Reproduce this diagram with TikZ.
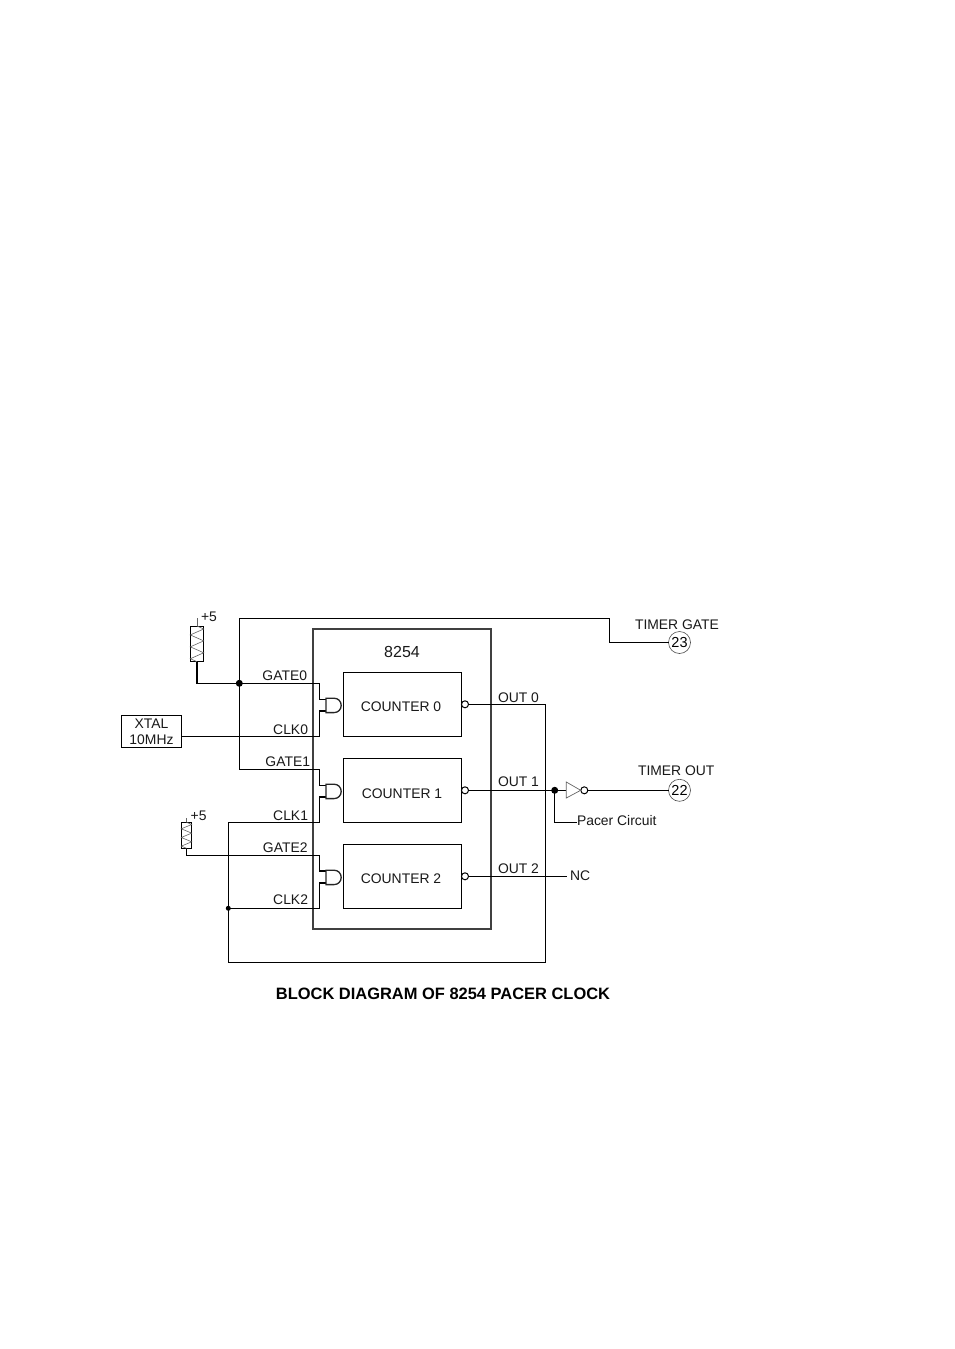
\documentclass[tikz,border=0pt]{standalone}
\usepackage{fontspec}
\setmainfont{Liberation Sans}
\usetikzlibrary{calc}
\newcommand{\GateShape}[1]{%
  \draw[gateline] (326,#1) -- (334,#1) .. controls (338.2,#1) and (341.2,#1+3.2) .. (341.2,#1+7.2) .. controls (341.2,#1+11.2) and (338.2,#1+14.4) .. (334,#1+14.4) -- (326,#1+14.4) -- cycle;}
\newcommand{\Zig}[5]{% x-left width y-top count period
  \draw[zigline] (#1+#2/2,#3) \foreach \n in {1,...,#4}{ -- ++(#2/2,#5/4) -- ++(-#2,#5/2) -- ++(#2/2,#5/4) };}
\tikzset{
  x=1pt,y=-1pt,
  every node/.style={inner sep=0pt,outer sep=0pt},
  wire/.style={line width=1.1pt,black},
  zigline/.style={line width=.6pt,black!60},
  gateline/.style={line width=1.3pt,black!85,fill=white},
  lbl/.style={font=\fontsize{13.9}{16}\selectfont,text=black!90},
  lblr/.style={lbl,anchor=base east},
  lbll/.style={lbl,anchor=base west},
  lblc/.style={lbl,anchor=base},
  boxn/.style={draw,line width=1.1pt,minimum width=118.4pt},
  chipn/.style={draw=black!75,line width=2pt,minimum width=178.4pt,minimum height=300pt},
  dotn/.style={circle,fill=black,minimum size=#1},
  bubble/.style={circle,draw,line width=1pt,fill=white,minimum size=7pt},
  pinn/.style={circle,draw=black!70,line width=.6pt,fill=white,minimum size=22pt,font=\fontsize{14.5}{16}\selectfont},
  resn/.style={draw,line width=1pt},
}
\begin{document}
\begin{tikzpicture}
\useasboundingbox[fill=white] (0,0) rectangle (954,1349);
% chip
\node[chipn] (chip) at (402,779.3) {};
\node[boxn,minimum height=64.3pt] (c0) at (402.5,704.2) {};
\node[boxn,minimum height=64pt] (c1) at (402.5,790.3) {};
\node[boxn,minimum height=64pt] (c2) at (402.5,876.3) {};
\node[lblc,font=\fontsize{16}{18}\selectfont] (t8254) at (402,657.5) {8254};
\node[lblc] (tc0) at (401,711) {COUNTER 0};
\node[lblc] (tc1) at (402,798) {COUNTER 1};
\node[lblc] (tc2) at (401,883) {COUNTER 2};
% parts
\node[draw,line width=1pt,minimum width=60.4pt,minimum height=32pt] (xtal) at (151.5,731.3) {};
\node[lblc] (tx1) at (151.5,728) {XTAL};
\node[lblc] (tx2) at (151.5,744) {10MHz};
\node[resn,minimum width=13.4pt,minimum height=35.7pt] (r1) at (197,643.9) {};
\node[resn,minimum width=10.4pt,minimum height=26pt] (r2) at (186.5,835.3) {};
\coordinate (r1top) at (197,618);
\coordinate (r2top) at (186.5,818);
\node[dotn=7pt] (j1) at (239.3,683.3) {};
\node[dotn=5pt] (j2) at (228.3,908.3) {};
\node[dotn=7pt] (j3) at (554.7,790.3) {};
\node[bubble] (b0) at (465,704.3) {};
\node[bubble] (b1) at (465,790.3) {};
\node[bubble] (b2) at (465,876.3) {};
\node[bubble] (b3) at (584.3,790.3) {};
\node[pinn] (p23) at (679.5,642.5) {23};
\node[pinn] (p22) at (679.5,790.3) {22};
\coordinate (nc) at (567,876.3);
\coordinate (pc) at (576.7,822.3);
\coordinate (inv) at (566.3,790.3);
\coordinate (xout) at (181.7,736.3);
% wires
\draw[wire,line width=.7pt,black!60] (r1top) -- (r1.north);
\draw[wire,line width=.7pt,black!60] (r2top) -- (r2.north);
\draw[wire] (r1.south) |- (j1.center) -- (319.3,683.3) -- (319.3,699.3) -- (326,699.3);
\draw[wire] (xout) -- (319.3,736.3) -- (319.3,711) -- (326,711);
\draw[wire] (j1.center) |- (609.3,618.3) |- (p23.west);
\draw[wire] (j1.center) |- (319.3,769.3) -- (319.3,785.5) -- (326,785.5);
\draw[wire] (j2.center) |- (319.3,822.3) -- (319.3,797) -- (326,797);
\draw[wire] (r2.south) |- (319.3,855.3) -- (319.3,871) -- (326,871);
\draw[wire] (j2.center) -- (319.3,908.3) -- (319.3,883) -- (326,883);
\draw[wire] (j2.center) |- (545.7,962.3) |- (b0.east);
\draw[wire] (b1.east) -- (j3.center) -- (inv);
\draw[wire] (b2.east) -- (nc);
\draw[wire] (b3.east) -- (p22.west);
\draw[wire] (j3.center) |- (pc);
% gates
\GateShape{698.2}\GateShape{784.2}\GateShape{870.2}
% inverter
\draw[line width=.7pt,black!60] (566.3,782) -- (580.7,790.3) -- (566.3,798) -- cycle;
% resistor zigzags
\Zig{190.3}{13.4}{626}{3}{11.9}
\Zig{181.3}{10.4}{822.3}{3}{8.67}
% labels
\node[lblr] (tg0) at (307,680) {GATE0};
\node[lblr] (tk0) at (308,734) {CLK0};
\node[lblr] (tg1) at (310,766) {GATE1};
\node[lblr] (tk1) at (308,820) {CLK1};
\node[lblr] (tg2) at (307.5,852.3) {GATE2};
\node[lblr] (tk2) at (308,904.3) {CLK2};
\node[lbll] (t51) at (201,621) {+5};
\node[lbll] (t52) at (190.7,820) {+5};
\node[lbll] (tgate) at (635,629) {TIMER GATE};
\node[lbll] (tout) at (638,775) {TIMER OUT};
\node[lbll] (to0) at (498,702) {OUT 0};
\node[lbll] (to1) at (498,786) {OUT 1};
\node[lbll] (to2) at (498,873) {OUT 2};
\node[lbll] (tnc) at (570,880) {NC};
\node[lbll] (tpc) at (577,825.5) {Pacer Circuit};
\node[anchor=base,font=\fontsize{16.45}{18}\selectfont\bfseries] (title) at (443,999.5) {BLOCK DIAGRAM OF 8254 PACER CLOCK};
\end{tikzpicture}
\end{document}
